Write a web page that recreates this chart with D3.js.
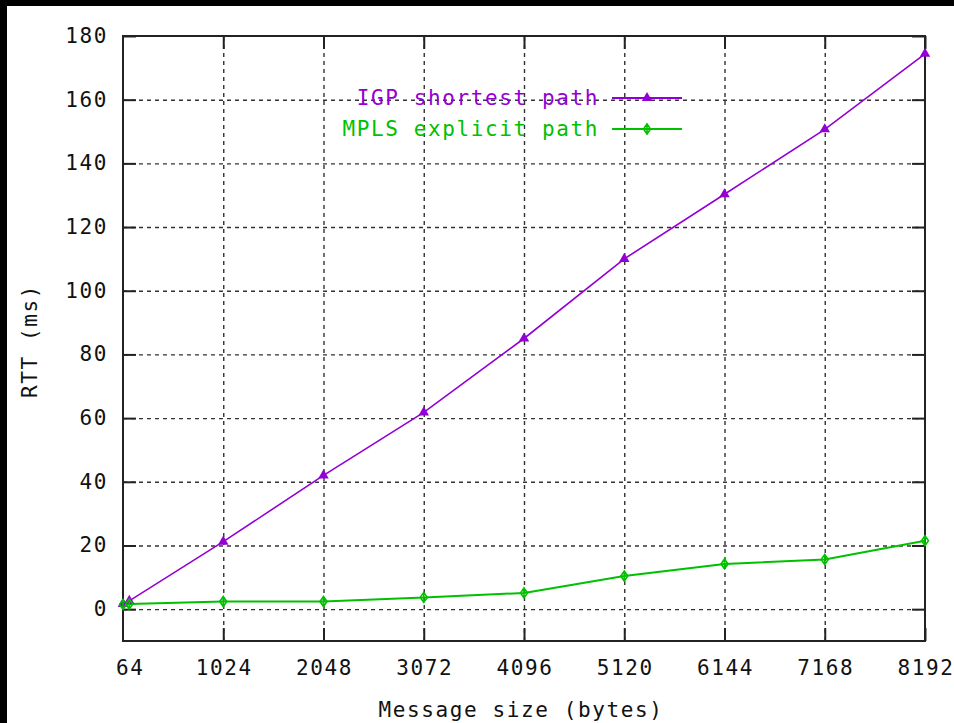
<!DOCTYPE html>
<html>
<head>
<meta charset="utf-8">
<script src="https://cdn.jsdelivr.net/npm/d3@7"></script>
<style>
  html, body { margin: 0; padding: 0; background: #fff; }
  svg text { font-family: "DejaVu Sans Mono", "Liberation Mono", monospace; font-size: 21px; letter-spacing: 1.6px; }
  .grid line { stroke: #333; stroke-width: 1.4; stroke-dasharray: 4 4; }
  .grid path { display: none; }
  .axis path, .axis line { stroke: #222; stroke-width: 2; }
  .axis text { fill: #111; }
</style>
</head>
<body>
<div class="chart"></div>
<script>
// Message sizes (bytes) and measured RTT (ms)
var msg_sizes = [0, 64, 1024, 2048, 3072, 4096, 5120, 6144, 7168, 8192];
var igp_rtt = [1.6, 2.6, 21.2, 42, 61.8, 85, 110, 130.3, 150.7, 174.4];
var mpls_rtt = [1.5, 1.6, 2.4, 2.4, 3.7, 5.1, 10.4, 14.2, 15.6, 21.5];
var series_names = ["IGP shortest path", "MPLS explicit path"];

// Tick labels
var x_ticks = [64, 1024, 2048, 3072, 4096, 5120, 6144, 7168, 8192];
var y_ticks = [0, 20, 40, 60, 80, 100, 120, 140, 160, 180];

var W = 954, H = 723;
var PLOT_L = 123, PLOT_T = 36, PLOT_R = 925, PLOT_B = 641;
var TICK_LEN = 13;
var IGP_COLOR = "#9400d3";
var MPLS_COLOR = "#00c000";

var svg = d3.select(".chart").append("svg")
        .attr("width", W)
        .attr("height", H);

// Black strips on the top and left edges of the original screenshot
svg.append("rect").attr("x", 0).attr("y", 0).attr("width", W).attr("height", 6).attr("fill", "#000");
svg.append("rect").attr("x", 0).attr("y", 0).attr("width", 7).attr("height", H).attr("fill", "#000");

var x = d3.scaleLinear().domain([0, 8192]).range([PLOT_L, PLOT_R]);
var y = d3.scaleLinear().domain([-10, 180]).range([PLOT_B, PLOT_T]);

// Dashed grid
svg.append("g").attr("class", "grid")
        .attr("transform", "translate(0," + PLOT_B + ")")
        .call(d3.axisBottom(x).tickValues(x_ticks.filter(function (d) { return d > 64 && d < 8192; }))
                .tickSize(-(PLOT_B - PLOT_T)).tickFormat(""));
svg.append("g").attr("class", "grid")
        .attr("transform", "translate(" + PLOT_L + ",0)")
        .call(d3.axisLeft(y).tickValues(y_ticks.filter(function (d) { return d < 180; }))
                .tickSize(-(PLOT_R - PLOT_L)).tickFormat(""));

// Axes with inward ticks, mirrored on all four sides
var x_tick_vals = x_ticks.filter(function (d) { return d > 64; });
svg.append("g").attr("class", "axis")
        .attr("transform", "translate(0," + PLOT_B + ")")
        .call(d3.axisBottom(x).tickValues(x_tick_vals).tickSize(-TICK_LEN).tickFormat(""));
svg.append("g").attr("class", "axis")
        .attr("transform", "translate(0," + PLOT_T + ")")
        .call(d3.axisTop(x).tickValues(x_tick_vals).tickSize(-TICK_LEN).tickFormat(""));
svg.append("g").attr("class", "axis")
        .attr("transform", "translate(" + PLOT_L + ",0)")
        .call(d3.axisLeft(y).tickValues(y_ticks).tickSize(-TICK_LEN).tickFormat(""));
svg.append("g").attr("class", "axis")
        .attr("transform", "translate(" + PLOT_R + ",0)")
        .call(d3.axisRight(y).tickValues(y_ticks).tickSize(-TICK_LEN).tickFormat(""));
svg.selectAll(".axis path").attr("d", null);
svg.append("rect")
        .attr("x", PLOT_L).attr("y", PLOT_T)
        .attr("width", PLOT_R - PLOT_L).attr("height", PLOT_B - PLOT_T)
        .attr("fill", "none").attr("stroke", "#222").attr("stroke-width", 2);

// Tick labels
svg.append("g").selectAll("text").data(x_ticks).enter().append("text")
        .attr("x", function (d) { return x(d) + 1; })
        .attr("y", 675)
        .attr("text-anchor", "middle")
        .attr("fill", "#111")
        .text(function (d) { return d; });
svg.append("g").selectAll("text").data(y_ticks).enter().append("text")
        .attr("x", 108)
        .attr("y", function (d) { return y(d) + 7; })
        .attr("text-anchor", "end")
        .attr("fill", "#111")
        .text(function (d) { return d; });

// Axis titles
svg.append("text")
        .attr("x", 521).attr("y", 717)
        .attr("text-anchor", "middle").attr("fill", "#111")
        .text("Message size (bytes)");
svg.append("text")
        .attr("transform", "translate(37,341) rotate(-90)")
        .attr("text-anchor", "middle").attr("fill", "#111")
        .text("RTT (ms)");

// Lines
var line_gen = d3.line().x(function (d, i) { return x(msg_sizes[i]); }).y(function (d) { return y(d); });
svg.append("path").datum(igp_rtt)
        .attr("d", line_gen)
        .attr("fill", "none").attr("stroke", IGP_COLOR).attr("stroke-width", 1.6);
svg.append("path").datum(mpls_rtt)
        .attr("d", line_gen)
        .attr("fill", "none").attr("stroke", MPLS_COLOR).attr("stroke-width", 2);

// Markers
var tri = d3.symbol().type(d3.symbolTriangle).size(48);
var diamond = "M0,-5L3.5,0L0,5L-3.5,0Z";
function draw_tri(g, cx, cy) {
    g.append("path").attr("d", tri())
            .attr("transform", "translate(" + cx + "," + cy + ")")
            .attr("fill", IGP_COLOR);
}
function draw_diamond(g, cx, cy) {
    g.append("path").attr("d", diamond + "M0,-5L0,5")
            .attr("transform", "translate(" + cx + "," + cy + ")")
            .attr("fill", "none").attr("stroke", MPLS_COLOR).attr("stroke-width", 1.6);
}
var marks = svg.append("g");
for (var i = 0; i < msg_sizes.length; i++) {
    draw_tri(marks, x(msg_sizes[i]), y(igp_rtt[i]));
    draw_diamond(marks, x(msg_sizes[i]), y(mpls_rtt[i]));
}

// Legend
var legend_y = [98, 129];
var legend_col = [IGP_COLOR, MPLS_COLOR];
for (var k = 0; k < series_names.length; k++) {
    svg.append("text")
            .attr("x", 599).attr("y", legend_y[k] + 7)
            .attr("text-anchor", "end")
            .attr("fill", legend_col[k])
            .text(series_names[k]);
    svg.append("line")
            .attr("x1", 612).attr("x2", 682)
            .attr("y1", legend_y[k]).attr("y2", legend_y[k])
            .attr("stroke", legend_col[k]).attr("stroke-width", 2);
    if (k === 0) draw_tri(svg, 647, legend_y[k]);
    else draw_diamond(svg, 647, legend_y[k]);
}
</script>
</body>
</html>
